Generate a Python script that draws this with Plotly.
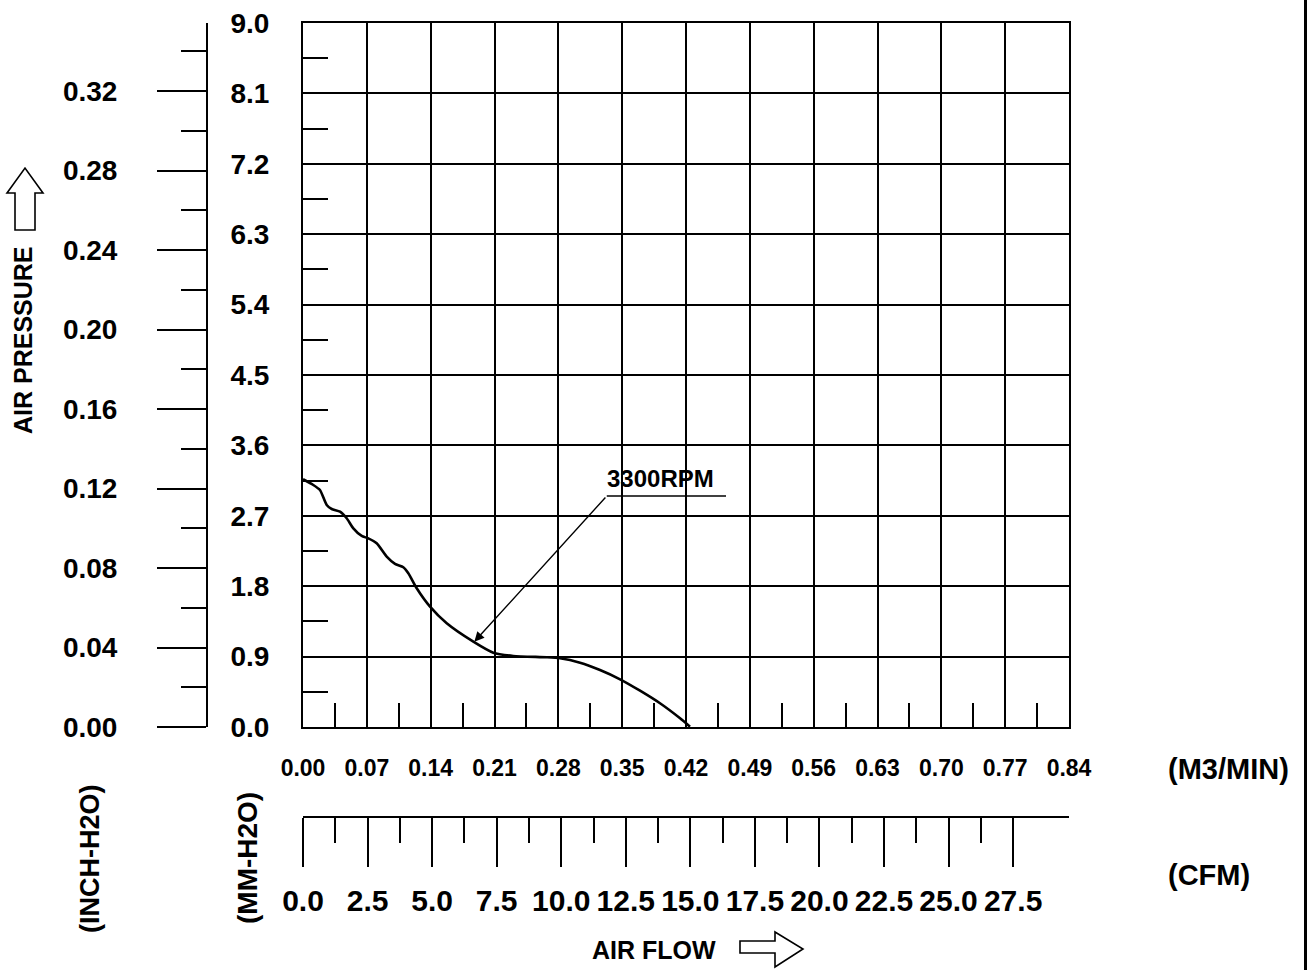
import plotly.graph_objects as go

W, H = 1307, 970

# ---------------- data ----------------
flow_m3min = [0.000, 0.0113, 0.0186, 0.0260, 0.0315, 0.0406, 0.0479, 0.0552, 0.0644, 0.0716,
              0.0808, 0.0918, 0.1009, 0.1100, 0.1155, 0.1247, 0.1393, 0.1576, 0.1868, 0.2087,
              0.2306, 0.2673, 0.2818, 0.3038, 0.3257, 0.3477, 0.3696, 0.3915, 0.4135, 0.4244]
pressure_mm = [3.167, 3.094, 3.030, 2.838, 2.787, 2.753, 2.668, 2.540, 2.442, 2.412,
               2.349, 2.177, 2.084, 2.042, 1.965, 1.773, 1.538, 1.326, 1.091, 0.950,
               0.908, 0.891, 0.878, 0.822, 0.729, 0.610, 0.464, 0.303, 0.111, 0.004]
curve_label = "3300RPM"
label_point = (0.1879, 1.0905)      # where the arrow points on the curve

m3_ticks = [0.00, 0.07, 0.14, 0.21, 0.28, 0.35, 0.42, 0.49, 0.56, 0.63, 0.70, 0.77, 0.84]
m3_labels = ["0.00", "0.07", "0.14", "0.21", "0.28", "0.35", "0.42", "0.49", "0.56", "0.63", "0.70", "0.77", "0.84"]
m3_minor = [0.035, 0.105, 0.175, 0.245, 0.315, 0.385, 0.455, 0.525, 0.595, 0.665, 0.735, 0.805]

mm_ticks = [0.0, 0.9, 1.8, 2.7, 3.6, 4.5, 5.4, 6.3, 7.2, 8.1, 9.0]
mm_labels = ["0.0", "0.9", "1.8", "2.7", "3.6", "4.5", "5.4", "6.3", "7.2", "8.1", "9.0"]
mm_minor = [0.45, 1.35, 2.25, 3.15, 4.05, 4.95, 5.85, 6.75, 7.65, 8.55]

inch_ticks = [0.00, 0.04, 0.08, 0.12, 0.16, 0.20, 0.24, 0.28, 0.32]
inch_labels = ["0.00", "0.04", "0.08", "0.12", "0.16", "0.20", "0.24", "0.28", "0.32"]
inch_minor = [0.02, 0.06, 0.10, 0.14, 0.18, 0.22, 0.26, 0.30, 0.34]

cfm_ticks = [0.0, 2.5, 5.0, 7.5, 10.0, 12.5, 15.0, 17.5, 20.0, 22.5, 25.0, 27.5]
cfm_labels = ["0.0", "2.5", "5.0", "7.5", "10.0", "12.5", "15.0", "17.5", "20.0", "22.5", "25.0", "27.5"]
cfm_minor = [1.25, 3.75, 6.25, 8.75, 11.25, 13.75, 16.25, 18.75, 21.25, 23.75, 26.25]

MM_PER_INCH = 25.4
M3MIN_PER_CFM = 0.0283168
X_MAX = 0.84
Y_MAX = 9.0

# ---------------- layout helpers ----------------
FONT = "Liberation Sans, Arial, sans-serif"
BLACK = "#000000"


def px(x):
    return x / W


def py(y):
    return 1 - y / H


PLOT_L, PLOT_R, PLOT_T, PLOT_B = 303, 1069, 23, 727

fig = go.Figure()

fig.add_trace(go.Scatter(x=flow_m3min, y=pressure_mm, mode="lines",
                         line=dict(color=BLACK, width=2.6, shape="spline", smoothing=0.6),
                         hoverinfo="skip", showlegend=False))
# invisible traces so that the secondary scales exist
fig.add_trace(go.Scatter(x=[0], y=[0], xaxis="x", yaxis="y2", mode="markers",
                         marker=dict(opacity=0), hoverinfo="skip", showlegend=False))
fig.add_trace(go.Scatter(x=[0], y=[0], xaxis="x2", yaxis="y", mode="markers",
                         marker=dict(opacity=0), hoverinfo="skip", showlegend=False))

fig.update_layout(
    width=W, height=H, autosize=False,
    margin=dict(l=0, r=0, t=0, b=0, pad=0, autoexpand=False),
    paper_bgcolor="white", plot_bgcolor="white",
    showlegend=False,
    xaxis=dict(
        domain=[px(PLOT_L), px(PLOT_R)], range=[0, X_MAX], automargin=False,
        tickmode="array", tickvals=m3_ticks, ticktext=m3_labels, tickangle=0,
        ticks="", showgrid=True, gridcolor=BLACK, gridwidth=2,
        showline=True, linecolor=BLACK, linewidth=2, mirror=True, zeroline=False,
        tickfont=dict(family=FONT, size=23, color=BLACK, weight="bold"),
        ticklabelstandoff=19,
        minor=dict(tickmode="array", tickvals=m3_minor, ticks="inside", ticklen=24,
                   tickwidth=2, tickcolor=BLACK, showgrid=False),
        fixedrange=True,
    ),
    yaxis=dict(
        domain=[py(PLOT_B), py(PLOT_T)], range=[0, Y_MAX], automargin=False,
        tickmode="array", tickvals=mm_ticks, ticktext=mm_labels, tickangle=0,
        ticks="", showgrid=True, gridcolor=BLACK, gridwidth=2,
        showline=True, linecolor=BLACK, linewidth=2, mirror=True, zeroline=False,
        tickfont=dict(family=FONT, size=28, color=BLACK, weight="bold"),
        ticklabelstandoff=26,
        minor=dict(tickmode="array", tickvals=mm_minor, ticks="inside", ticklen=25,
                   tickwidth=2, tickcolor=BLACK, showgrid=False),
        fixedrange=True,
    ),
    yaxis2=dict(
        overlaying="y", anchor="free", position=px(207), side="left", automargin=False,
        range=[0, Y_MAX / MM_PER_INCH],
        tickmode="array", tickvals=inch_ticks, ticktext=inch_labels, tickangle=0,
        ticks="outside", ticklen=49, tickwidth=2, tickcolor=BLACK,
        showgrid=False, showline=True, linecolor=BLACK, linewidth=2, zeroline=False,
        tickfont=dict(family=FONT, size=28, color=BLACK, weight="bold"),
        ticklabelstandoff=34,
        minor=dict(tickmode="array", tickvals=inch_minor, ticks="outside", ticklen=25,
                   tickwidth=2, tickcolor=BLACK, showgrid=False),
        fixedrange=True,
    ),
    xaxis2=dict(
        overlaying="x", anchor="free", position=py(817), side="bottom", automargin=False,
        range=[0, X_MAX / M3MIN_PER_CFM],
        tickmode="array", tickvals=cfm_ticks, ticktext=cfm_labels, tickangle=0,
        ticks="outside", ticklen=49, tickwidth=2, tickcolor=BLACK,
        showgrid=False, showline=True, linecolor=BLACK, linewidth=2, zeroline=False,
        tickfont=dict(family=FONT, size=30, color=BLACK, weight="bold"),
        ticklabelstandoff=8,
        minor=dict(tickmode="array", tickvals=cfm_minor, ticks="outside", ticklen=25,
                   tickwidth=2, tickcolor=BLACK, showgrid=False),
        fixedrange=True,
    ),
)

# ---------------- annotation for the curve ----------------
lead_start = (0.3331, 2.953)
lead_end = (0.4639, 2.953)
fig.add_shape(type="line", xref="x", yref="y", x0=lead_start[0], y0=lead_start[1],
              x1=lead_end[0], y1=lead_end[1], line=dict(color=BLACK, width=1.6))
fig.add_annotation(x=label_point[0], y=label_point[1], xref="x", yref="y",
                   ax=lead_start[0], ay=lead_start[1], axref="x", ayref="y",
                   text="", showarrow=True, arrowhead=2, arrowsize=1.4, arrowwidth=1.4,
                   arrowcolor=BLACK, standoff=0)
fig.add_annotation(x=0.3924, y=3.18, xref="x", yref="y", text=curve_label, showarrow=False,
                   font=dict(family=FONT, size=24, color=BLACK, weight="bold"))

# ---------------- titles ----------------
def label(text, x, y, size, angle=0, xanchor="center"):
    fig.add_annotation(x=px(x), y=py(y), xref="paper", yref="paper", text=text,
                       showarrow=False, textangle=angle, xanchor=xanchor, yanchor="middle",
                       font=dict(family=FONT, size=size, color=BLACK, weight="bold"))


label("AIR PRESSURE", 23, 340, 25, angle=-90)
label("(INCH-H2O)", 90, 859, 27, angle=-90)
label("(MM-H2O)", 247, 858, 28, angle=-90)
label("(M3/MIN)", 1166, 769, 29, xanchor="left")
label("(CFM)", 1166, 875, 29, xanchor="left")
label("AIR FLOW", 654, 950, 25)


def path(points):
    s = "M " + " L ".join(f"{px(a):.5f},{py(b):.5f}" for a, b in points) + " Z"
    return s


# hollow up arrow next to AIR PRESSURE
up_arrow = [(15, 230), (15, 193), (7, 193), (25, 168), (43, 193), (35, 193), (35, 230)]
fig.add_shape(type="path", xref="paper", yref="paper", path=path(up_arrow),
              line=dict(color=BLACK, width=1.6), fillcolor="white")
# hollow right arrow next to AIR FLOW
right_arrow = [(740, 941), (775, 941), (775, 932), (803, 949), (775, 967), (775, 953), (740, 953)]
fig.add_shape(type="path", xref="paper", yref="paper", path=path(right_arrow),
              line=dict(color=BLACK, width=1.6), fillcolor="white")
# page border on the right
fig.add_shape(type="line", xref="paper", yref="paper", x0=px(1305.5), x1=px(1305.5),
              y0=0, y1=1, line=dict(color=BLACK, width=3))

fig.write_html("out.html", config={"displayModeBar": False},
               post_script="document.body.style.margin='0';document.body.style.overflow='hidden';")
